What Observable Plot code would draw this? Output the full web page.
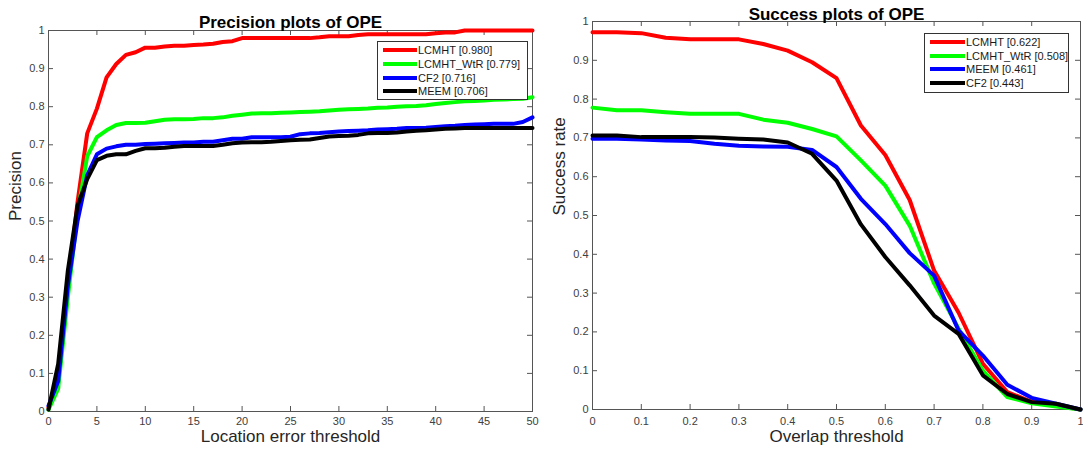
<!DOCTYPE html>
<html><head><meta charset="utf-8">
<script src="https://cdn.jsdelivr.net/npm/d3@7"></script>
<script src="https://cdn.jsdelivr.net/npm/@observablehq/plot@0.6"></script>
<style>
body{margin:0;background:#fff;}
#wrap{position:relative;width:1083px;height:453px;overflow:hidden;font-family:"Liberation Sans",Arial,Helvetica,sans-serif;background:#fff;}
.plot{position:absolute;top:0;}
.legend{position:absolute;background:#fff;border:1px solid #333;box-sizing:border-box;font-size:11px;color:#1a1a1a;}
.sw{position:absolute;height:4px;}
.lt{position:absolute;line-height:14px;white-space:nowrap;}
</style></head><body><div id="wrap"></div>
<script>
// ---------- DATA ----------
const locThresholds = [0,1,2,3,4,5,6,7,8,9,10,11,12,13,14,15,16,17,18,19,20,21,22,23,24,25,26,27,28,29,30,31,32,33,34,35,36,37,38,39,40,41,42,43,44,45,46,47,48,49,50];
const precLCMHT = [0.01,0.09,0.33,0.55,0.73,0.795,0.877,0.912,0.936,0.943,0.955,0.955,0.958,0.96,0.96,0.962,0.963,0.965,0.97,0.972,0.98,0.98,0.98,0.98,0.98,0.98,0.98,0.98,0.982,0.985,0.985,0.985,0.988,0.99,0.99,0.99,0.99,0.99,0.99,0.99,0.993,0.995,0.995,1,1,1,1,1,1,1,1];
const precLCMHT_WtR = [0.005,0.06,0.30,0.52,0.67,0.72,0.738,0.752,0.757,0.757,0.758,0.762,0.766,0.767,0.767,0.768,0.77,0.77,0.772,0.776,0.779,0.782,0.783,0.783,0.784,0.785,0.786,0.787,0.788,0.79,0.792,0.793,0.794,0.795,0.797,0.798,0.8,0.801,0.802,0.804,0.807,0.81,0.812,0.814,0.815,0.816,0.818,0.819,0.82,0.821,0.825];
const precCF2 = [0.015,0.08,0.33,0.50,0.62,0.675,0.69,0.696,0.70,0.70,0.702,0.703,0.704,0.705,0.706,0.706,0.708,0.708,0.712,0.716,0.716,0.72,0.72,0.72,0.72,0.721,0.728,0.73,0.731,0.733,0.735,0.736,0.737,0.738,0.74,0.741,0.742,0.744,0.744,0.745,0.747,0.749,0.75,0.752,0.753,0.754,0.755,0.755,0.755,0.76,0.772];
const precMEEM = [0.005,0.125,0.37,0.54,0.61,0.66,0.671,0.675,0.675,0.684,0.691,0.691,0.692,0.695,0.697,0.697,0.697,0.697,0.70,0.704,0.706,0.707,0.707,0.708,0.71,0.712,0.713,0.714,0.718,0.722,0.723,0.724,0.726,0.73,0.731,0.731,0.732,0.735,0.737,0.738,0.74,0.742,0.743,0.744,0.744,0.744,0.744,0.744,0.744,0.744,0.744];

const overlapThresholds = [0,0.05,0.1,0.15,0.2,0.25,0.3,0.35,0.4,0.45,0.5,0.55,0.6,0.65,0.7,0.75,0.8,0.85,0.9,0.95,1];
const succLCMHT = [0.972,0.972,0.970,0.958,0.954,0.954,0.954,0.942,0.925,0.895,0.854,0.732,0.656,0.54,0.358,0.25,0.118,0.045,0.02,0.01,0];
const succLCMHT_WtR = [0.778,0.771,0.771,0.766,0.762,0.762,0.762,0.747,0.739,0.723,0.704,0.642,0.577,0.474,0.325,0.209,0.1,0.032,0.016,0.008,0];
const succMEEM = [0.698,0.698,0.696,0.693,0.692,0.685,0.68,0.678,0.677,0.669,0.625,0.543,0.478,0.403,0.345,0.204,0.139,0.064,0.03,0.015,0];
const succCF2 = [0.706,0.706,0.702,0.702,0.702,0.701,0.698,0.696,0.688,0.659,0.59,0.477,0.393,0.32,0.242,0.195,0.088,0.04,0.019,0.015,0];

const locTicks = [0,5,10,15,20,25,30,35,40,45,50];
const overlapTicks = [0,0.1,0.2,0.3,0.4,0.5,0.6,0.7,0.8,0.9,1];
const rateTicks = [0,0.1,0.2,0.3,0.4,0.5,0.6,0.7,0.8,0.9,1];

const precLegend = ["LCMHT [0.980]","LCMHT_WtR [0.779]","CF2 [0.716]","MEEM [0.706]"];
const succLegend = ["LCMHT [0.622]","LCMHT_WtR [0.508]","MEEM [0.461]","CF2 [0.443]"];
const colors = ["#ff0000","#00ff00","#0000ff","#000000"];

// ---------- DRAW ----------
const FONT = '"Liberation Sans",Arial,Helvetica,sans-serif';
const fmt = d3.format("~g");
const AX = "#555";

function makePlot(c) {
  const H = 453;
  const fw = c.width - c.mL - c.mR, fh = H - c.mT - c.mB;
  return Plot.plot({
    width: c.width, height: H,
    marginLeft: c.mL, marginRight: c.mR, marginTop: c.mT, marginBottom: c.mB,
    style: {fontFamily: FONT, background: "transparent", overflow: "visible"},
    x: {domain: c.xDomain, label: null},
    y: {domain: [0, 1], label: null},
    marks: [
      Plot.frame({stroke: AX}),
      Plot.tickX(c.xTicks, {x: d => d, insetTop: fh - 5, stroke: AX}),
      Plot.tickX(c.xTicks, {x: d => d, insetBottom: fh - 5, stroke: AX}),
      Plot.tickY(rateTicks, {y: d => d, insetRight: fw - 5, stroke: AX}),
      Plot.tickY(rateTicks, {y: d => d, insetLeft: fw - 5, stroke: AX}),
      Plot.axisX(c.xTicks, {tickSize: 0, tickPadding: c.xPad, tickFormat: fmt, fontSize: 11, color: "#404040"}),
      Plot.axisY(rateTicks, {tickSize: 0, tickPadding: 4, tickFormat: fmt, fontSize: 11, color: "#404040"}),
      ...c.series.map((vals, k) => Plot.line(vals, {x: (d, i) => c.xs[i], y: d => d, stroke: colors[k], strokeWidth: 4})),
      Plot.text([c.title], {text: d => d, frameAnchor: "top", dy: c.titleDy, fontSize: 17, fontWeight: "bold", fill: "#000"}),
      Plot.text([c.xLabel], {text: d => d, frameAnchor: "bottom", dy: c.xLabelDy, fontSize: 17, fill: "#262626"}),
      Plot.text([c.yLabel], {text: d => d, frameAnchor: "left", dx: c.yLabelDx, rotate: -90, fontSize: 17, fill: "#262626"})
    ]
  });
}

function makeLegend(c) {
  const box = document.createElement("div");
  box.className = "legend";
  Object.assign(box.style, {left: c.left + "px", top: c.top + "px", width: c.width + "px", height: c.height + "px"});
  c.labels.forEach((lab, k) => {
    const cy = c.row0 + k * c.step;
    const sw = document.createElement("div");
    sw.className = "sw";
    Object.assign(sw.style, {left: c.swL + "px", width: c.swW + "px", top: (cy - 2) + "px", background: colors[k]});
    const t = document.createElement("div");
    t.className = "lt";
    t.textContent = lab;
    Object.assign(t.style, {left: c.txL + "px", top: (cy - 7) + "px"});
    box.appendChild(sw); box.appendChild(t);
  });
  return box;
}

const wrap = document.getElementById("wrap");

const left = makePlot({
  width: 540, mL: 48, mR: 8, mT: 30, mB: 42,
  xDomain: [0, 50], xTicks: locTicks, xs: locThresholds, xPad: 6,
  series: [precLCMHT, precLCMHT_WtR, precCF2, precMEEM],
  title: "Precision plots of OPE", titleDy: -15,
  xLabel: "Location error threshold", xLabelDy: 30,
  yLabel: "Precision", yLabelDx: -33
});
left.classList.add("plot"); left.style.left = "0px";
wrap.appendChild(left);

const right = makePlot({
  width: 543, mL: 52, mR: 3, mT: 21, mB: 44,
  xDomain: [0, 1], xTicks: overlapTicks, xs: overlapThresholds, xPad: 8,
  series: [succLCMHT, succLCMHT_WtR, succMEEM, succCF2],
  title: "Success plots of OPE", titleDy: -14,
  xLabel: "Overlap threshold", xLabelDy: 32,
  yLabel: "Success rate", yLabelDx: -33
});
right.classList.add("plot"); right.style.left = "540px";
wrap.appendChild(right);

wrap.appendChild(makeLegend({left: 377, top: 41, width: 151, height: 59, labels: precLegend,
  row0: 8, step: 13.8, swL: 5, swW: 34, txL: 40}));
wrap.appendChild(makeLegend({left: 924, top: 33, width: 145, height: 60, labels: succLegend,
  row0: 8, step: 13.7, swL: 5, swW: 35, txL: 41}));
</script>
</body></html>
